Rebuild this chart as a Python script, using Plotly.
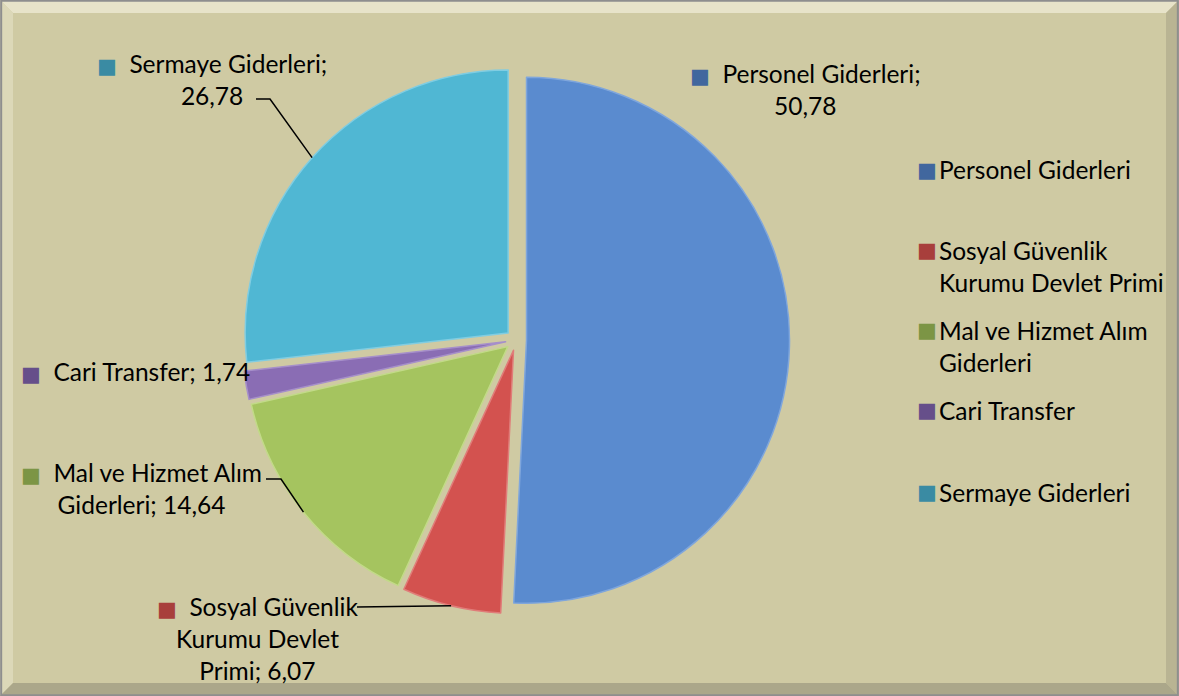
import math
import plotly.graph_objects as go

labels = ["Personel Giderleri", "Sosyal Güvenlik Kurumu Devlet Primi",
          "Mal ve Hizmet Alım Giderleri", "Cari Transfer", "Sermaye Giderleri"]
legend_lines = [["Personel Giderleri"], ["Sosyal Güvenlik", "Kurumu Devlet Primi"],
                ["Mal ve Hizmet Alım", "Giderleri"], ["Cari Transfer"], ["Sermaye Giderleri"]]
values = [50.78, 6.07, 14.64, 1.74, 26.78]
value_text = ["50,78", "6,07", "14,64", "1,74", "26,78"]
colors = ["#5A8BCF", "#D3524F", "#A5C45F", "#8A6DB4", "#50B7D3"]
edge_colors = ["#7FA6DC", "#E07C79", "#C2DA88", "#A68FCA", "#80CDE2"]
key_colors = ["#41679E", "#A83F3C", "#7C9545", "#664F8A", "#3A8BA3"]

W, H = 1179, 696
BG = "#CFCAA3"
FONT = "Lato"
FS = 24.5

# pie geometry (pixels, as seen in reference)
cx, cy, R = 516, 340, 263
pull = 0.04
half = R * (1 + pull)
dom_x = [(cx - half) / W, (cx + half) / W]
dom_y = [1 - (cy + half) / H, 1 - (cy - half) / H]

def px(x):
    return x / W

def py(y):
    return 1 - y / H

fig = go.Figure()
fig.add_trace(go.Pie(
    labels=labels, values=values, sort=False, direction="clockwise", rotation=0,
    pull=[pull] * len(values), textinfo="none", hoverinfo="label+value",
    marker=dict(colors=colors, line=dict(color=edge_colors, width=1.5)),
    domain=dict(x=dom_x, y=dom_y), showlegend=False,
))

shapes = []
# frame bevel
b = 13
def poly(pts, color):
    d = "M " + " L ".join(f"{px(x)},{py(y)}" for x, y in pts) + " Z"
    return dict(type="path", xref="paper", yref="paper", path=d,
                fillcolor=color, line=dict(width=0), layer="below")
shapes.append(poly([(0, 0), (W, 0), (W - b, b), (b, b)], "#E7E3C9"))
shapes.append(poly([(0, 0), (b, b), (b, H - b), (0, H)], "#DCD8B8"))
shapes.append(poly([(W, 0), (W, H), (W - b, H - b), (W - b, b)], "#B9B493"))
shapes.append(poly([(0, H), (W, H), (W - b, H - b), (b, H - b)], "#ABA78A"))
shapes.append(dict(type="rect", xref="paper", yref="paper", x0=0.001, y0=0.001,
                   x1=0.999, y1=0.999, line=dict(color="#8E8E8E", width=2),
                   layer="below"))

# leader lines: end at outer edge of slice at its mid angle
total = sum(values)
cum = 0
mids = []
for v in values:
    mids.append((cum + v / 2) / total * 2 * math.pi)
    cum += v

def slice_edge(i):
    a = mids[i]
    sx = cx + R * pull * math.sin(a)
    sy = cy - R * pull * math.cos(a)
    return sx + R * math.sin(a), sy - R * math.cos(a)

leader_starts = {4: [(256, 99), (270, 99)], 2: [(266, 479), (281, 479)], 1: [(357, 607)]}
for i, pts in leader_starts.items():
    ex, ey = slice_edge(i)
    allp = pts + [(ex, ey)]
    d = "M " + " L ".join(f"{px(x)},{py(y)}" for x, y in allp)
    shapes.append(dict(type="path", xref="paper", yref="paper", path=d,
                       line=dict(color="black", width=1.5)))

def sq(i):
    return (f"<span style='color:{key_colors[i]};font-family:DejaVu Sans;"
            f"font-size:21px'>■</span>  ")

annotations = []
# data labels (block center positions)
label_specs = [
    (0, f"{sq(0)}Personel Giderleri;<br>{value_text[0]}", 805, 90),
    (1, f"{sq(1)}Sosyal Güvenlik<br>Kurumu Devlet<br>Primi; {value_text[1]}", 257, 638),
    (2, f"{sq(2)}Mal ve Hizmet Alım<br>Giderleri; {value_text[2]}", 141, 488),
    (3, f"{sq(3)}Cari Transfer; {value_text[3]}", 135, 372),
    (4, f"{sq(4)}Sermaye Giderleri;<br>{value_text[4]}", 212, 80),
]
for i, txt, x, y in label_specs:
    annotations.append(dict(text=txt, x=px(x), y=py(y), xref="paper", yref="paper",
                            xanchor="center", yanchor="middle", showarrow=False,
                            align="center", font=dict(family=FONT, size=FS, color="black")))

# legend (manual, to reproduce the spacing of the original)
legend_y = [170, 250, 330, 410, 492]
line_h = 32
for i, lines in enumerate(legend_lines):
    y0 = legend_y[i]
    annotations.append(dict(text=f"<span style='color:{key_colors[i]}'>■</span>",
                            x=px(915), y=py(y0), xref="paper", yref="paper",
                            xanchor="left", yanchor="middle", showarrow=False,
                            font=dict(family="DejaVu Sans", size=21, color=key_colors[i])))
    yc = y0 + (len(lines) - 1) * line_h / 2
    annotations.append(dict(text="<br>".join(lines), x=px(937), y=py(yc),
                            xref="paper", yref="paper", xanchor="left", yanchor="middle",
                            showarrow=False, align="left",
                            font=dict(family=FONT, size=FS, color="black")))

fig.update_layout(
    width=W, height=H,
    margin=dict(l=0, r=0, t=0, b=0),
    paper_bgcolor=BG, plot_bgcolor=BG,
    font=dict(family=FONT, size=FS, color="black"),
    shapes=shapes, annotations=annotations,
    showlegend=False,
)

fig.write_html("out.html", config={"displayModeBar": False},
               post_script="document.body.style.margin='0';document.body.style.overflow='hidden';")
